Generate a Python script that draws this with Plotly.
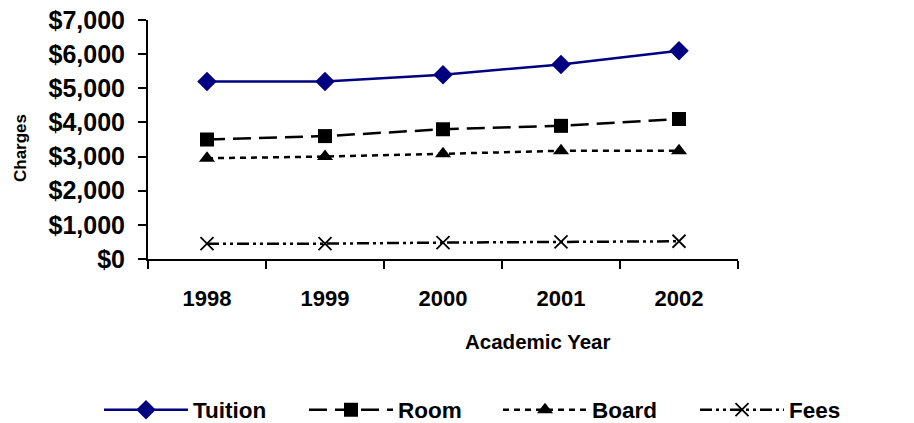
import plotly.graph_objects as go

years = ["1998", "1999", "2000", "2001", "2002"]
tuition = [5200, 5200, 5400, 5700, 6100]
room = [3500, 3600, 3800, 3900, 4100]
board = [2950, 3000, 3080, 3170, 3170]
fees = [450, 450, 480, 500, 520]

y_ticks = [0, 1000, 2000, 3000, 4000, 5000, 6000, 7000]
y_tick_text = ["$0", "$1,000", "$2,000", "$3,000", "$4,000", "$5,000", "$6,000", "$7,000"]

FONT = "Arial, Liberation Sans, sans-serif"
LEGEND_FONT = dict(size=22.5, family=FONT, weight="bold")

fig = go.Figure()
fig.add_trace(go.Scatter(
    x=years, y=tuition, name="Tuition", mode="lines+markers", legend="legend",
    line=dict(color="#000080", width=2.5),
    marker=dict(symbol="diamond", size=15, color="#000080"),
))
fig.add_trace(go.Scatter(
    x=years, y=room, name="Room", mode="lines+markers", legend="legend2",
    line=dict(color="black", width=2.5, dash="18px,8px"),
    marker=dict(symbol="square", size=14, color="black"),
))
fig.add_trace(go.Scatter(
    x=years, y=board, name="Board", mode="lines+markers", legend="legend3",
    line=dict(color="black", width=2.5, dash="6px,5px"),
    marker=dict(symbol="triangle-up", size=14, color="black"),
))
fig.add_trace(go.Scatter(
    x=years, y=fees, name="Fees", mode="lines+markers", legend="legend4",
    line=dict(color="black", width=2.5, dash="12px,4px,3px,4px,3px,4px"),
    marker=dict(symbol="x-thin", size=13, color="black",
                line=dict(color="black", width=1.8)),
))


def legend_at(left_px):
    # one legend box per series, placed along the bottom row
    return dict(
        orientation="h", xref="container", yref="container",
        x=left_px / 914, xanchor="left", y=13 / 423, yanchor="middle",
        font=LEGEND_FONT, itemwidth=84, bgcolor="rgba(0,0,0,0)",
    )


fig.update_layout(
    width=914, height=423,
    margin=dict(l=148, r=176, t=20, b=164),
    plot_bgcolor="white", paper_bgcolor="white",
    font=dict(family=FONT, color="black"),
    showlegend=True,
    legend=legend_at(99),
    legend2=legend_at(304),
    legend3=legend_at(498),
    legend4=legend_at(695),
    xaxis=dict(
        type="category", range=[-0.5, 4.5], automargin=False,
        showline=True, linecolor="black", linewidth=2,
        ticks="outside", tickson="boundaries", ticklen=8, tickwidth=2, tickcolor="black",
        tickfont=dict(size=22, family=FONT, weight="bold"),
        ticklabelstandoff=19,
        showgrid=False, zeroline=False,
    ),
    yaxis=dict(
        range=[0, 7000], tickvals=y_ticks, ticktext=y_tick_text, automargin=False,
        showline=True, linecolor="black", linewidth=2,
        ticks="outside", ticklen=8, tickwidth=2, tickcolor="black",
        tickfont=dict(size=25, family=FONT, weight="bold"),
        ticklabelstandoff=8,
        showgrid=False, zeroline=False,
    ),
    annotations=[
        dict(text="Academic Year", xref="paper", yref="paper",
             x=(538 - 148) / 590, y=(259 - 341) / 239, xanchor="center", yanchor="middle",
             showarrow=False, font=dict(size=20.5, family=FONT, weight="bold")),
        dict(text="Charges", xref="paper", yref="paper",
             x=(20 - 148) / 590, y=(259 - 148) / 239, xanchor="center", yanchor="middle",
             textangle=-90, showarrow=False,
             font=dict(size=17, family=FONT, weight="bold")),
    ],
)

fig.write_html("out.html")
